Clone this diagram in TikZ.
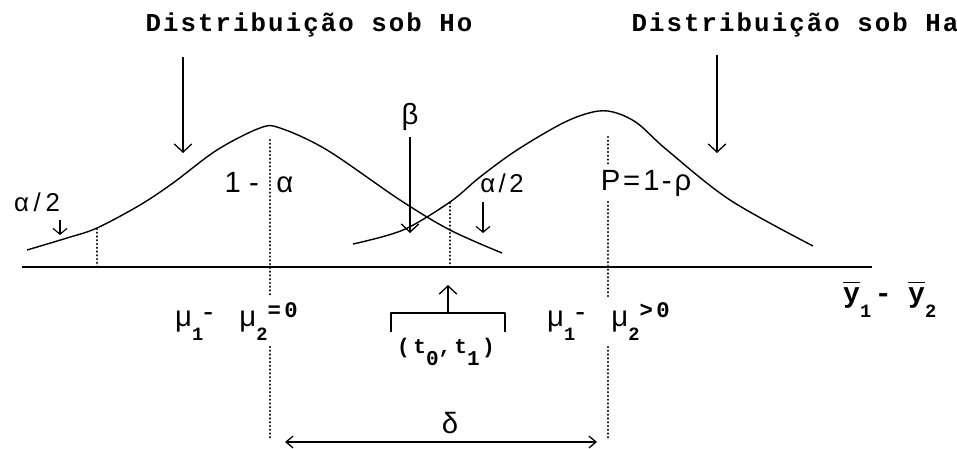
\documentclass[tikz,border=0pt]{standalone}
\usepackage{fontspec}
\setmainfont{Liberation Sans}
\newfontfamily\plotfont[LetterSpace=10]{Liberation Sans}
\newfontfamily\dotfont[LetterSpace=8]{Liberation Mono}
\newfontfamily\subfont[LetterSpace=15]{Liberation Mono}
\usetikzlibrary{arrows.meta, positioning}

% difference of means with bold subscripts, as printed under the axis
\newcommand{\mudiff}[1]{μ\raisebox{-0.5em}{\fontsize{16}{17}\subfont\bfseries 1}\raisebox{0.15em}{-}\hspace{0.9em}μ\raisebox{-0.5em}{\fontsize{16}{17}\subfont\bfseries 2}\raisebox{0.28em}{\fontsize{19}{20}\subfont\bfseries #1}}
\newcommand{\ybar}{$\overline{\mbox{\vphantom{Y}y}}$}

\begin{document}
\begin{tikzpicture}[x=0.03cm, y=-0.03cm,
        density/.style={line width=1.2pt, line join=round},
        axisline/.style={line width=1.6pt},
        guide/.style={line width=2.2pt, line cap=round, dash pattern=on 0.01pt off 3.2pt},
        pointer/.style={-{Straight Barb[length=7pt, width=15pt]}, line width=1.1pt},
        minipointer/.style={-{Straight Barb[length=5pt, width=12pt]}, line width=1pt},
        heading/.style={font=\fontsize{22}{24}\dotfont\bfseries, inner sep=0pt},
        plotlabel/.style={font=\fontsize{25}{28}\plotfont, inner sep=0pt},
        smalllabel/.style={font=\fontsize{22}{24}\plotfont, inner sep=0pt},
        monolabel/.style={font=\fontsize{18}{20}\subfont\bfseries, inner sep=0pt}
    ]
        \useasboundingbox (0,0) rectangle (957,448);

        % titles and their pointers
        \node[heading] (ho) at (309,25) {Distribuição sob Ho};
        \node[heading] (ha) at (795,25) {Distribuição sob Ha};
        \coordinate (ho-from) at (183,57);
        \coordinate (ho-to) at (183,153);
        \coordinate (ha-from) at (717,55);
        \coordinate (ha-to) at (717,153);
        \draw[pointer] (ho-from) -- (ho-to);
        \draw[pointer] (ha-from) -- (ha-to);

        % axis and the two densities
        \coordinate (ax-start) at (22,267);
        \coordinate (ax-end) at (872,267);
        \draw[axisline] (ax-start) -- (ax-end);
        \draw[density] plot[smooth, tension=0.55] coordinates {(27,250) (67,238) (97,228) (140,205) (173,183) (217,150) (260,128) (280,128) (327,150) (400,200) (450,230) (502,253)};
        \draw[density] plot[smooth, tension=0.55] coordinates {(353,244) (403,230) (450,202) (480,177) (517,150) (563,123) (593,112) (613,112) (637,123) (667,150) (730,200) (813,246)};

        % dotted guides
        \draw[guide] (270,140) -- (270,297);
        \draw[guide] (270,347) -- (270,440);
        \draw[guide] (608,137) -- (608,165);
        \draw[guide] (608,202) -- (608,297);
        \draw[guide] (608,347) -- (608,440);
        \draw[guide] (97,229) -- (97,267);
        \draw[guide] (450,203) -- (450,267);

        % areas
        \node[plotlabel] (one-alpha) at (259,183) {1\hspace{7pt}-\hspace{15pt}α};
        \node[plotlabel] (power) at (646,183) {P=1\hspace{2pt}-ρ};
        \node[smalllabel] (alpha-l) at (37,202) {α\hspace{4pt}/\hspace{4pt}2};
        \node[smalllabel] (alpha-r) at (502,183) {α\hspace{3pt}/\hspace{3pt}2};
        \node[plotlabel] (beta) at (410,117) {β};
        \coordinate (al-to) at (60,235);
        \coordinate (ar-to) at (483,233);
        \coordinate (beta-to) at (410,233);
        \draw[minipointer] (60,220) -- (al-to);
        \draw[minipointer] (483,202) -- (ar-to);
        \draw[pointer] (beta.south) ++(0,6) -- (beta-to);

        % means below the axis
        \node[plotlabel, anchor=base west] (null) at (175,326) {\mudiff{=0}};
        \node[plotlabel, anchor=base west] (alt) at (547,326) {\mudiff{>0}};
        \node[monolabel, anchor=base west] (ydiff) at (843,302) {\fontsize{24}{26}\subfont\bfseries\ybar\raisebox{-0.55em}{\fontsize{16}{17}\subfont\bfseries 1}\hspace{3pt}-\hspace{14pt}\ybar\raisebox{-0.55em}{\fontsize{16}{17}\subfont\bfseries 2}};

        % interval bracket
        \coordinate (t-left) at (391,332);
        \coordinate (t-right) at (505,332);
        \coordinate (t-mid) at (448,313);
        \coordinate (t-tip) at (448,285);
        \draw[density] (t-left) -- ++(0,-19) -| (t-right);
        \draw[pointer] (t-mid) -- (t-tip);
        \node[monolabel] (interval) at (446,352) {(\hspace{3pt}t\raisebox{-0.6em}{0},t\raisebox{-0.6em}{1}\hspace{2pt})};

        % distance between means
        \coordinate (d-left) at (285,442);
        \coordinate (d-right) at (597,442);
        \draw[{Straight Barb[length=6pt, width=10pt]}-{Straight Barb[length=6pt, width=10pt]}, line width=1.1pt] (d-left) -- (d-right);
        \node[plotlabel] (delta) at (450,423) {δ};
    \end{tikzpicture}
\end{document}
